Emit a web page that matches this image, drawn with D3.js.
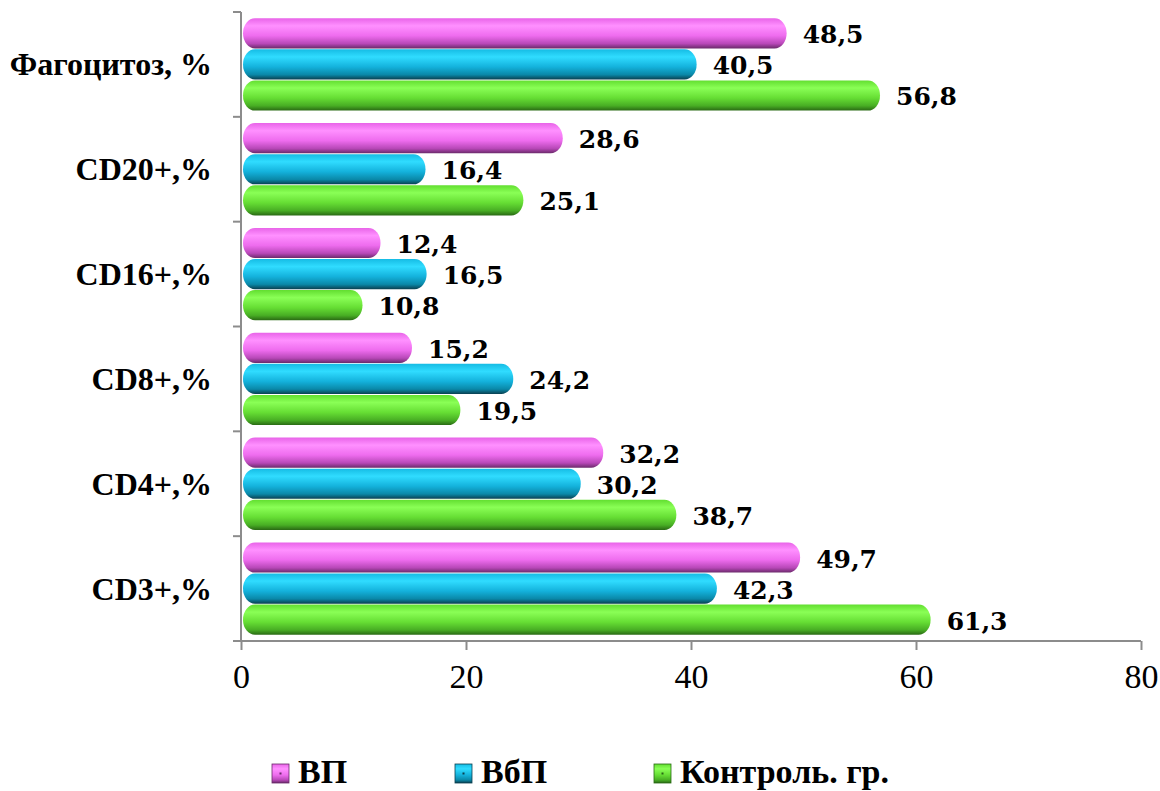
<!DOCTYPE html>
<html>
<head>
<meta charset="utf-8">
<script src="https://cdn.jsdelivr.net/npm/d3@7/dist/d3.min.js"></script>
<style>
  html, body { margin: 0; padding: 0; background: #fff; }
  svg { display: block; }
</style>
</head>
<body>
<svg id="chart" width="1160" height="791"></svg>
<script>
// Immune indicators by group
const categories = ["Фагоцитоз, %", "CD20+,%", "CD16+,%", "CD8+,%", "CD4+,%", "CD3+,%"];
const seriesNames = ["ВП", "ВбП", "Контроль. гр."];
const valuesVP = [48.5, 28.6, 12.4, 15.2, 32.2, 49.7];
const valuesVbP = [40.5, 16.4, 16.5, 24.2, 30.2, 42.3];
const valuesControl = [56.8, 25.1, 10.8, 19.5, 38.7, 61.3];
const xTicks = [0, 20, 40, 60, 80];

const seriesValues = [valuesVP, valuesVbP, valuesControl];
const seriesColors = [
  { top: "#e864e8", hi: "#ff90ff", mid: "#ee6cee", low: "#b848b8", bottom: "#6a2a6a" },
  { top: "#16bce4", hi: "#30dcff", mid: "#14b2dc", low: "#0a88a8", bottom: "#0a4050" },
  { top: "#62de30", hi: "#8aff56", mid: "#66de34", low: "#48ae24", bottom: "#2a6a14" }
];

const serif = "'Liberation Serif', 'Times New Roman', serif";
const labelSerif = "'DejaVu Serif', serif";

const svg = d3.select("#chart");
const defs = svg.append("defs");

seriesColors.forEach((c, i) => {
  const g = defs.append("linearGradient")
    .attr("id", "barGrad" + i)
    .attr("x1", 0).attr("y1", 0).attr("x2", 0).attr("y2", 1);
  [[0, c.top], [0.25, c.hi], [0.58, c.mid], [0.84, c.low], [1, c.bottom]]
    .forEach(([o, col]) => g.append("stop").attr("offset", o).attr("stop-color", col));
});

const x = d3.scaleLinear().domain([0, 80]).range([241, 1141]);
const y = d3.scaleBand().domain(categories).range([12, 641]).paddingInner(0.12).paddingOuter(0.06);
const ySub = d3.scaleBand().domain(d3.range(seriesNames.length)).range([0, y.bandwidth()]).paddingInner(0.03);

const axisColor = "#8c8c8c";

// bars with value labels
const groups = svg.append("g").selectAll("g")
  .data(categories)
  .join("g")
  .attr("transform", d => `translate(0,${y(d)})`);

groups.each(function (cat, ci) {
  const g = d3.select(this);
  seriesValues.forEach((vals, si) => {
    const v = vals[ci];
    const bx = x(0) + 2;
    const bw = x(v) - bx;
    const by = ySub(si);
    const bh = ySub.bandwidth();
    g.append("rect")
      .attr("x", bx).attr("y", by).attr("width", bw).attr("height", bh)
      .attr("rx", 12).attr("ry", bh / 2)
      .attr("fill", `url(#barGrad${si})`);
    g.append("text")
      .attr("x", x(v) + 16)
      .attr("y", by + bh / 2 + 10)
      .attr("font-family", labelSerif)
      .attr("font-weight", "bold")
      .attr("font-size", 25)
      .attr("fill", "#000")
      .text(v.toFixed(1).replace(".", ","));
  });
});

// y axis with category labels
const yAxisG = svg.append("g").attr("transform", `translate(${x(0)},0)`);
yAxisG.append("line").attr("x1", 0).attr("x2", 0).attr("y1", 12).attr("y2", 641)
  .attr("stroke", axisColor).attr("stroke-width", 2);
const boundaries = d3.range(categories.length + 1).map(i => 12 + i * (629 / categories.length));
yAxisG.selectAll("line.tick").data(boundaries).join("line")
  .attr("class", "tick")
  .attr("x1", -8).attr("x2", 0).attr("y1", d => d).attr("y2", d => d)
  .attr("stroke", axisColor).attr("stroke-width", 2);
svg.append("g").selectAll("text").data(categories).join("text")
  .attr("x", 212)
  .attr("y", d => y(d) + y.bandwidth() / 2 + 11)
  .attr("text-anchor", "end")
  .attr("font-family", serif)
  .attr("font-weight", "bold")
  .attr("font-size", 32)
  .text(d => d);

// x axis
const xAxis = d3.axisBottom(x).tickValues(xTicks).tickSize(9).tickPadding(14).tickFormat(d3.format("d"));
const xAxisG = svg.append("g").attr("transform", "translate(0,641)").call(xAxis);
xAxisG.attr("font-family", serif);
xAxisG.select(".domain").attr("stroke", axisColor).attr("stroke-width", 2).attr("d", `M${x(0) - 8},0H${x(80)}`);
xAxisG.selectAll(".tick line").attr("stroke", axisColor).attr("stroke-width", 2);
xAxisG.selectAll(".tick text")
  .style("font-family", serif)
  .attr("font-size", 34)
  .attr("fill", "#000");

// legend
const legendX = [272, 455, 654];
const legend = svg.append("g").selectAll("g").data(seriesNames).join("g")
  .attr("transform", (d, i) => `translate(${legendX[i]},764)`);
legend.append("rect")
  .attr("width", 17).attr("height", 19)
  .attr("fill", (d, i) => `url(#barGrad${i})`)
  .attr("stroke", (d, i) => seriesColors[i].bottom).attr("stroke-width", 0.8);
legend.append("rect")
  .attr("x", 7.5).attr("y", 8.5).attr("width", 2).attr("height", 2)
  .attr("fill", (d, i) => seriesColors[i].bottom);
legend.append("text")
  .attr("x", 26).attr("y", 19)
  .attr("font-family", serif)
  .attr("font-weight", "bold")
  .attr("font-size", 34)
  .text(d => d);
</script>
</body>
</html>
